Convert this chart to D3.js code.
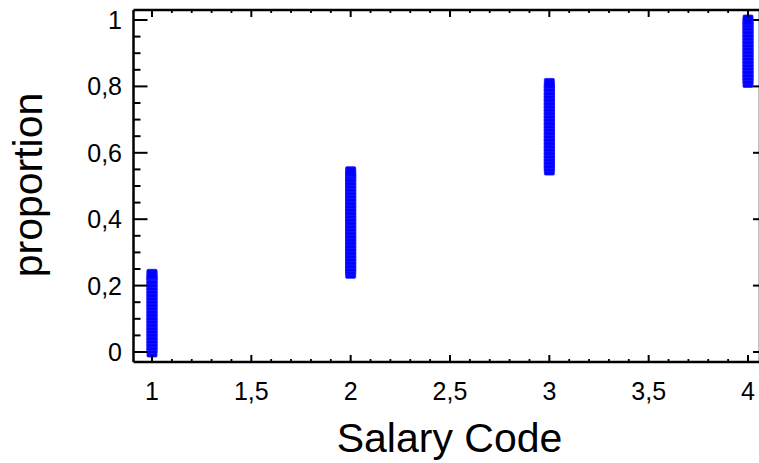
<!DOCTYPE html>
<html>
<head>
<meta charset="utf-8">
<script src="https://cdn.jsdelivr.net/npm/d3@7"></script>
<style>
  html, body { margin: 0; padding: 0; background: #fff; }
  svg { display: block; font-family: "Liberation Sans", Arial, sans-serif; }
</style>
</head>
<body>
<svg id="chart" width="759" height="463"></svg>
<script>
// Salary codes on the horizontal axis
const salaryCodes = [1, 2, 3, 4];

// Cumulative proportion of observations at each salary code
const proportionsCode1 = [0.000, 0.010, 0.020, 0.030, 0.040, 0.050, 0.060, 0.070, 0.080, 0.090,
  0.100, 0.110, 0.120, 0.130, 0.140, 0.150, 0.160, 0.170, 0.180, 0.190, 0.200, 0.210, 0.220, 0.230, 0.234];
const proportionsCode2 = [0.237, 0.247, 0.257, 0.267, 0.277, 0.287, 0.297, 0.307, 0.317, 0.327,
  0.337, 0.347, 0.357, 0.367, 0.377, 0.387, 0.397, 0.407, 0.417, 0.427, 0.437, 0.447, 0.457,
  0.467, 0.477, 0.487, 0.497, 0.507, 0.517, 0.527, 0.537, 0.543];
const proportionsCode3 = [0.548, 0.558, 0.568, 0.578, 0.588, 0.598, 0.608, 0.618, 0.628, 0.638,
  0.648, 0.658, 0.668, 0.678, 0.688, 0.698, 0.708, 0.718, 0.728, 0.738, 0.748, 0.758, 0.768,
  0.778, 0.788, 0.798, 0.809];
const proportionsCode4 = [0.812, 0.822, 0.832, 0.842, 0.852, 0.862, 0.872, 0.882, 0.892, 0.902,
  0.912, 0.922, 0.932, 0.942, 0.952, 0.962, 0.972, 0.982, 0.992, 1.000];

// Tick values and labels (comma decimal separator)
const xMajorTicks = [1, 1.5, 2, 2.5, 3, 3.5, 4];
const xTickLabels = ["1", "1,5", "2", "2,5", "3", "3,5", "4"];
const yMajorTicks = [0, 0.2, 0.4, 0.6, 0.8, 1];
const yTickLabels = ["0", "0,2", "0,4", "0,6", "0,8", "1"];

const xTitle = "Salary Code";
const yTitle = "proportion";

const svg = d3.select("#chart");

// Plot frame
const frame = { left: 133.5, right: 760, top: 10, bottom: 362 };

const x = d3.scaleLinear().domain([1, 4]).range([152, 748]);
const y = d3.scaleLinear().domain([0, 1]).range([352, 20]);

const xMinorTicks = d3.range(10, 41).map(d => d / 10).filter(v => !xMajorTicks.some(m => Math.abs(m - v) < 1e-9));
const yMinorTicks = d3.range(0, 21).map(d => d / 20).filter(v => !yMajorTicks.some(m => Math.abs(m - v) < 1e-9));

const points = [];
[proportionsCode1, proportionsCode2, proportionsCode3, proportionsCode4].forEach((arr, i) => {
  arr.forEach(p => points.push({ code: salaryCodes[i], p }));
});

// Markers
const size = 10;
svg.append("g")
  .selectAll("rect")
  .data(points)
  .join("rect")
  .attr("x", d => x(d.code) - size / 2)
  .attr("y", d => y(d.p) - size / 2)
  .attr("width", size)
  .attr("height", size)
  .attr("rx", 1)
  .attr("fill", "#0000ff")
  .attr("stroke", "#1a1aff")
  .attr("stroke-width", 0.8);

const axes = svg.append("g").attr("stroke", "#000").attr("fill", "none");

// Frame lines
axes.append("line").attr("x1", frame.left).attr("x2", frame.right).attr("y1", frame.bottom).attr("y2", frame.bottom).attr("stroke-width", 2.5);
axes.append("line").attr("x1", frame.left).attr("x2", frame.right).attr("y1", frame.top).attr("y2", frame.top).attr("stroke-width", 2.5);
axes.append("line").attr("x1", frame.left).attr("x2", frame.left).attr("y1", frame.top).attr("y2", frame.bottom).attr("stroke-width", 2.5);
axes.append("line").attr("x1", frame.right).attr("x2", frame.right).attr("y1", frame.top).attr("y2", frame.bottom).attr("stroke-width", 2.5);

// Left ticks (inward)
axes.selectAll(".ylmaj").data(yMajorTicks).join("line")
  .attr("x1", frame.left).attr("x2", frame.left + 14)
  .attr("y1", d => y(d)).attr("y2", d => y(d)).attr("stroke-width", 2);
axes.selectAll(".ylmin").data(yMinorTicks).join("line")
  .attr("x1", frame.left).attr("x2", frame.left + 7)
  .attr("y1", d => y(d)).attr("y2", d => y(d)).attr("stroke-width", 2);

// Right ticks (inward, major only)
axes.selectAll(".yrmaj").data(yMajorTicks).join("line")
  .attr("x1", frame.right - 7).attr("x2", frame.right)
  .attr("y1", d => y(d)).attr("y2", d => y(d)).attr("stroke-width", 2);

// Bottom and top ticks (inward)
axes.selectAll(".xbmaj").data(xMajorTicks).join("line")
  .attr("x1", d => x(d)).attr("x2", d => x(d))
  .attr("y1", frame.bottom).attr("y2", frame.bottom - 7).attr("stroke-width", 2);
axes.selectAll(".xbmin").data(xMinorTicks).join("line")
  .attr("x1", d => x(d)).attr("x2", d => x(d))
  .attr("y1", frame.bottom).attr("y2", frame.bottom - 3).attr("stroke-width", 1.8);
axes.selectAll(".xtmaj").data(xMajorTicks).join("line")
  .attr("x1", d => x(d)).attr("x2", d => x(d))
  .attr("y1", frame.top).attr("y2", frame.top + 7).attr("stroke-width", 2);
axes.selectAll(".xtmin").data(xMinorTicks).join("line")
  .attr("x1", d => x(d)).attr("x2", d => x(d))
  .attr("y1", frame.top).attr("y2", frame.top + 3).attr("stroke-width", 1.8);

// Tick labels
const fs = 25;
svg.append("g").selectAll("text").data(xMajorTicks).join("text")
  .attr("x", d => x(d)).attr("y", 400)
  .attr("text-anchor", "middle").attr("font-size", fs).attr("fill", "#000")
  .text((d, i) => xTickLabels[i]);
svg.append("g").selectAll("text").data(yMajorTicks).join("text")
  .attr("x", 122).attr("y", d => y(d) + 0.358 * fs)
  .attr("text-anchor", "end").attr("font-size", fs).attr("fill", "#000")
  .text((d, i) => yTickLabels[i]);

// Axis titles
svg.append("text")
  .attr("x", 449.5).attr("y", 452)
  .attr("text-anchor", "middle").attr("font-size", 41).attr("fill", "#000")
  .text(xTitle);
svg.append("text")
  .attr("transform", "translate(42,185) rotate(-90)")
  .attr("text-anchor", "middle").attr("font-size", 41).attr("fill", "#000")
  .text(yTitle);
</script>
</body>
</html>
